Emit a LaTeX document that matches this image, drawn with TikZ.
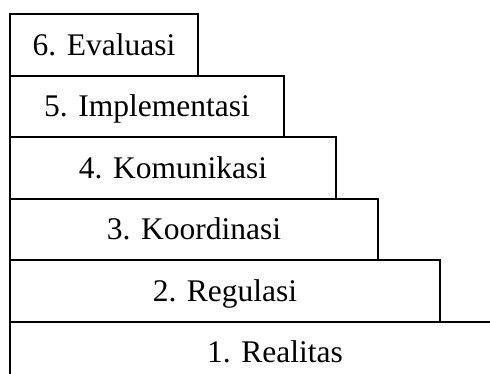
\documentclass[tikz,border=0pt]{standalone}
\usepackage{fontspec}
\setmainfont{Liberation Serif}
\begin{document}
\begin{tikzpicture}[x=1pt,y=1pt,
  stepbox/.style={draw=black, line width=1.3pt, rectangle, anchor=north west,
    inner sep=0pt, outer sep=0pt, text height=21pt, text depth=0pt,
    font=\fontsize{31.5}{36}\selectfont}]
\useasboundingbox (0,0) rectangle (490,374);
\clip (0,0) rectangle (490,374);
\node[stepbox, minimum width=530, minimum height=60] (b1) at (10,52) {1. Realitas};
\node[stepbox, minimum width=430, minimum height=62] (b2) at (10,114) {2. Regulasi};
\node[stepbox, minimum width=368, minimum height=61] (b3) at (10,175) {3. Koordinasi};
\node[stepbox, minimum width=326, minimum height=62] (b4) at (10,237) {4. Komunikasi};
\node[stepbox, minimum width=274, minimum height=61] (b5) at (10,298) {5. Implementasi};
\node[stepbox, minimum width=188, minimum height=62] (b6) at (10,360) {6. Evaluasi};
\end{tikzpicture}
\end{document}
